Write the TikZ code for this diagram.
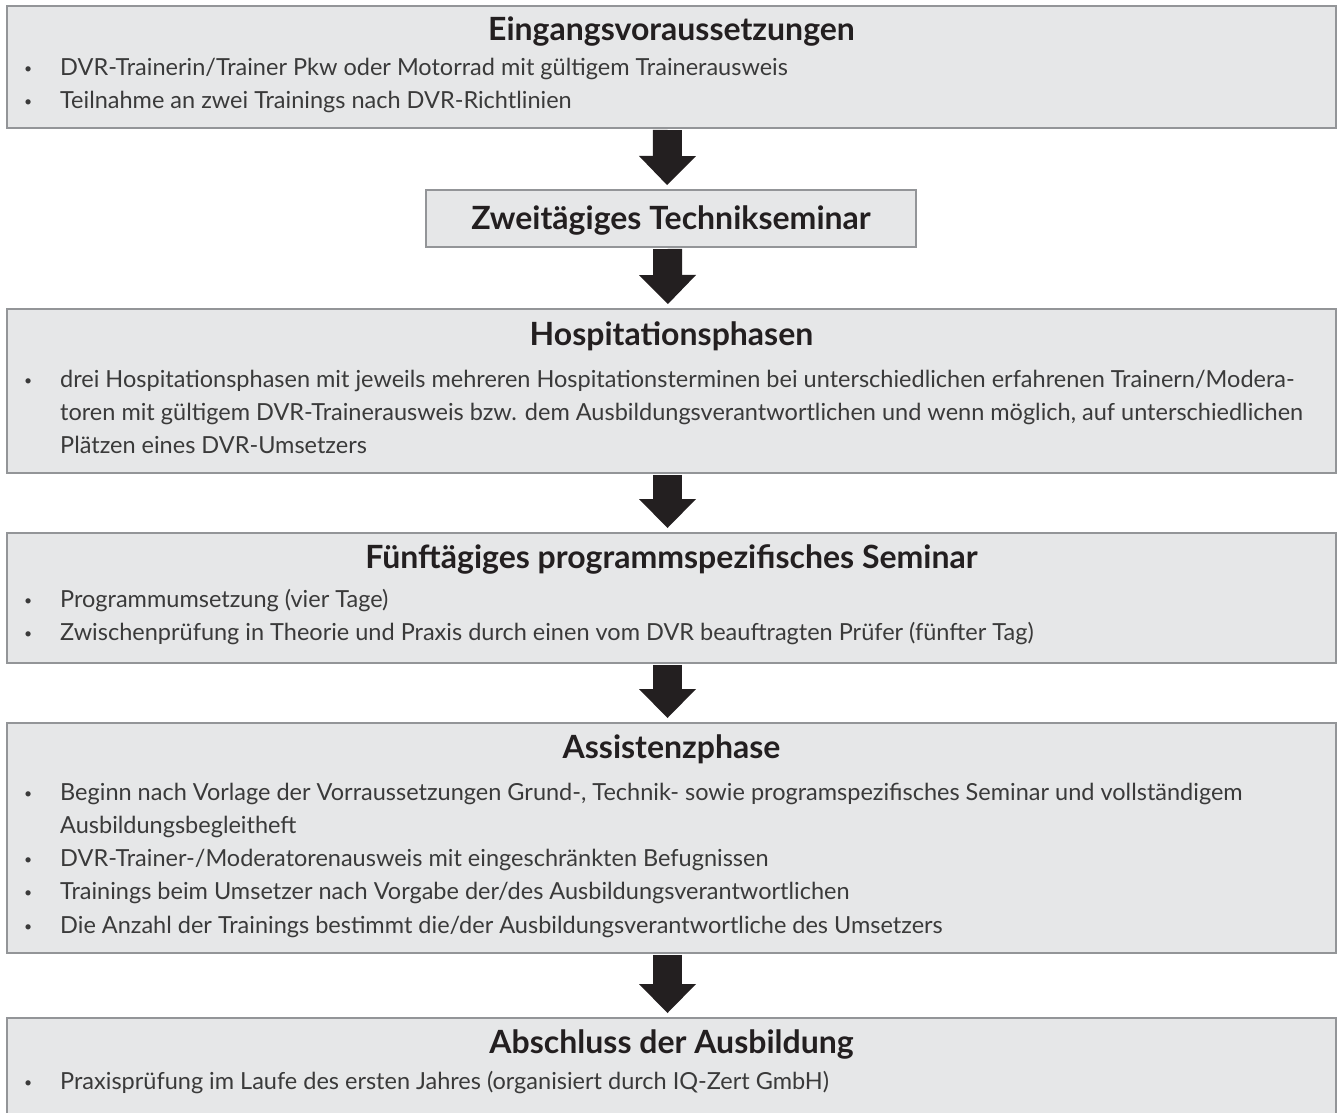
\documentclass[tikz,border=0pt]{standalone}
\usepackage{fontspec}
\setmainfont{Lato}
\usetikzlibrary{arrows.meta}
\hyphenpenalty=10000
\exhyphenpenalty=10000

\definecolor{boxgrau}{HTML}{E6E7E8}
\definecolor{randgrau}{HTML}{939598}
\definecolor{schrift}{HTML}{231F20}
\definecolor{textgrau}{HTML}{3A3A3A}

% bullet with hanging indent
\newcommand{\punkt}{\par\noindent\hangindent=38pt\hangafter=1\makebox[38pt][l]{\hspace{2pt}\raisebox{2pt}{\fontsize{14}{14}\selectfont\textbullet}}}

\tikzset{
  kasten/.style={draw=randgrau, line width=2pt, fill=boxgrau, inner sep=0pt, minimum width=1329pt},
  titel/.style={anchor=base, inner sep=0pt, text=schrift, font=\fontsize{32}{37}\selectfont\bfseries},
  liste/.style={anchor=base west, inner sep=0pt, text width=1312pt, align=flush left, text=textgrau, font=\fontsize{23.5}{33.2}\selectfont},
  pfeil/.style={draw=schrift, line width=29pt, -{Triangle[width=57pt,length=29pt,line width=0pt]}, shorten >=4pt, shorten <=1pt},
}

\begin{document}
\begin{tikzpicture}[x=1pt,y=-1pt]
\useasboundingbox (0,0) rectangle (1341,1113);

%Shape: Rectangle
\node[kasten, minimum height=122pt] (eing) at (671.5,67) {};
%Shape: Rectangle
\node[kasten, minimum width=490pt, minimum height=57pt] (tech) at (671,218.5) {};
%Shape: Rectangle
\node[kasten, minimum height=164pt] (hosp) at (671.5,391) {};
%Shape: Rectangle
\node[kasten, minimum height=130pt] (sem) at (671.5,598) {};
%Shape: Rectangle
\node[kasten, minimum height=230pt] (assi) at (671.5,838) {};
%Shape: Rectangle
\node[kasten, minimum height=122pt] (absch) at (671.5,1079) {};

% Text Node
\node[titel] (eingT) at (671.5,41) {Eingangsvoraussetzungen};
\node[liste] (eingL) at (22,42) {\punkt DVR-Trainerin/Trainer Pkw oder Motorrad mit gültigem Trainerausweis
  \punkt Teilnahme an zwei Trainings nach DVR-Richtlinien\par};
% Text Node
\node[titel] (techT) at (671,229.5) {Zweitägiges Technikseminar};
% Text Node
\node[titel] (hospT) at (671.5,345) {Hospitationsphasen};
\node[liste] (hospL) at (22,354) {\punkt drei Hospitationsphasen mit jeweils mehreren Hospitationsterminen bei unterschiedlichen erfahrenen Trainern/Modera-\newline
  toren mit gültigem DVR-Trainerausweis bzw. dem Ausbildungsverantwortlichen und wenn möglich, auf unterschiedlichen\newline
  Plätzen eines DVR-Umsetzers\par};
% Text Node
\node[titel] (semT) at (671.5,568) {Fünftägiges programmspezifisches Seminar};
\node[liste] (semL) at (22,574) {\punkt Programmumsetzung (vier Tage)
  \punkt Zwischenprüfung in Theorie und Praxis durch einen vom DVR beauftragten Prüfer (fünfter Tag)\par};
% Text Node
\node[titel] (assiT) at (671.5,758) {Assistenzphase};
\node[liste] (assiL) at (22,767) {\punkt Beginn nach Vorlage der Vorraussetzungen Grund-, Technik- sowie programspezifisches Seminar und vollständigem\newline
  Ausbildungsbegleitheft
  \punkt DVR-Trainer-/Moderatorenausweis mit eingeschränkten Befugnissen
  \punkt Trainings beim Umsetzer nach Vorgabe der/des Ausbildungsverantwortlichen
  \punkt Die Anzahl der Trainings bestimmt die/der Ausbildungsverantwortliche des Umsetzers\par};
% Text Node
\node[titel] (abschT) at (671.5,1053) {Abschluss der Ausbildung};
\node[liste] (abschL) at (22,1056) {\punkt Praxisprüfung im Laufe des ersten Jahres (organisiert durch IQ-Zert GmbH)\par};

% Arrows
\draw[pfeil] ([xshift=-4pt]eing.south) -- ([xshift=-4pt]tech.north);
\draw[pfeil] ([xshift=-3.5pt]tech.south) -- ([xshift=-3.5pt]hosp.north);
\draw[pfeil] ([xshift=-4pt]hosp.south) -- ([xshift=-4pt]sem.north);
\draw[pfeil] ([xshift=-4pt]sem.south) -- ([xshift=-4pt]assi.north);
\draw[pfeil] ([xshift=-4pt]assi.south) -- ([xshift=-4pt]absch.north);

\end{tikzpicture}
\end{document}
